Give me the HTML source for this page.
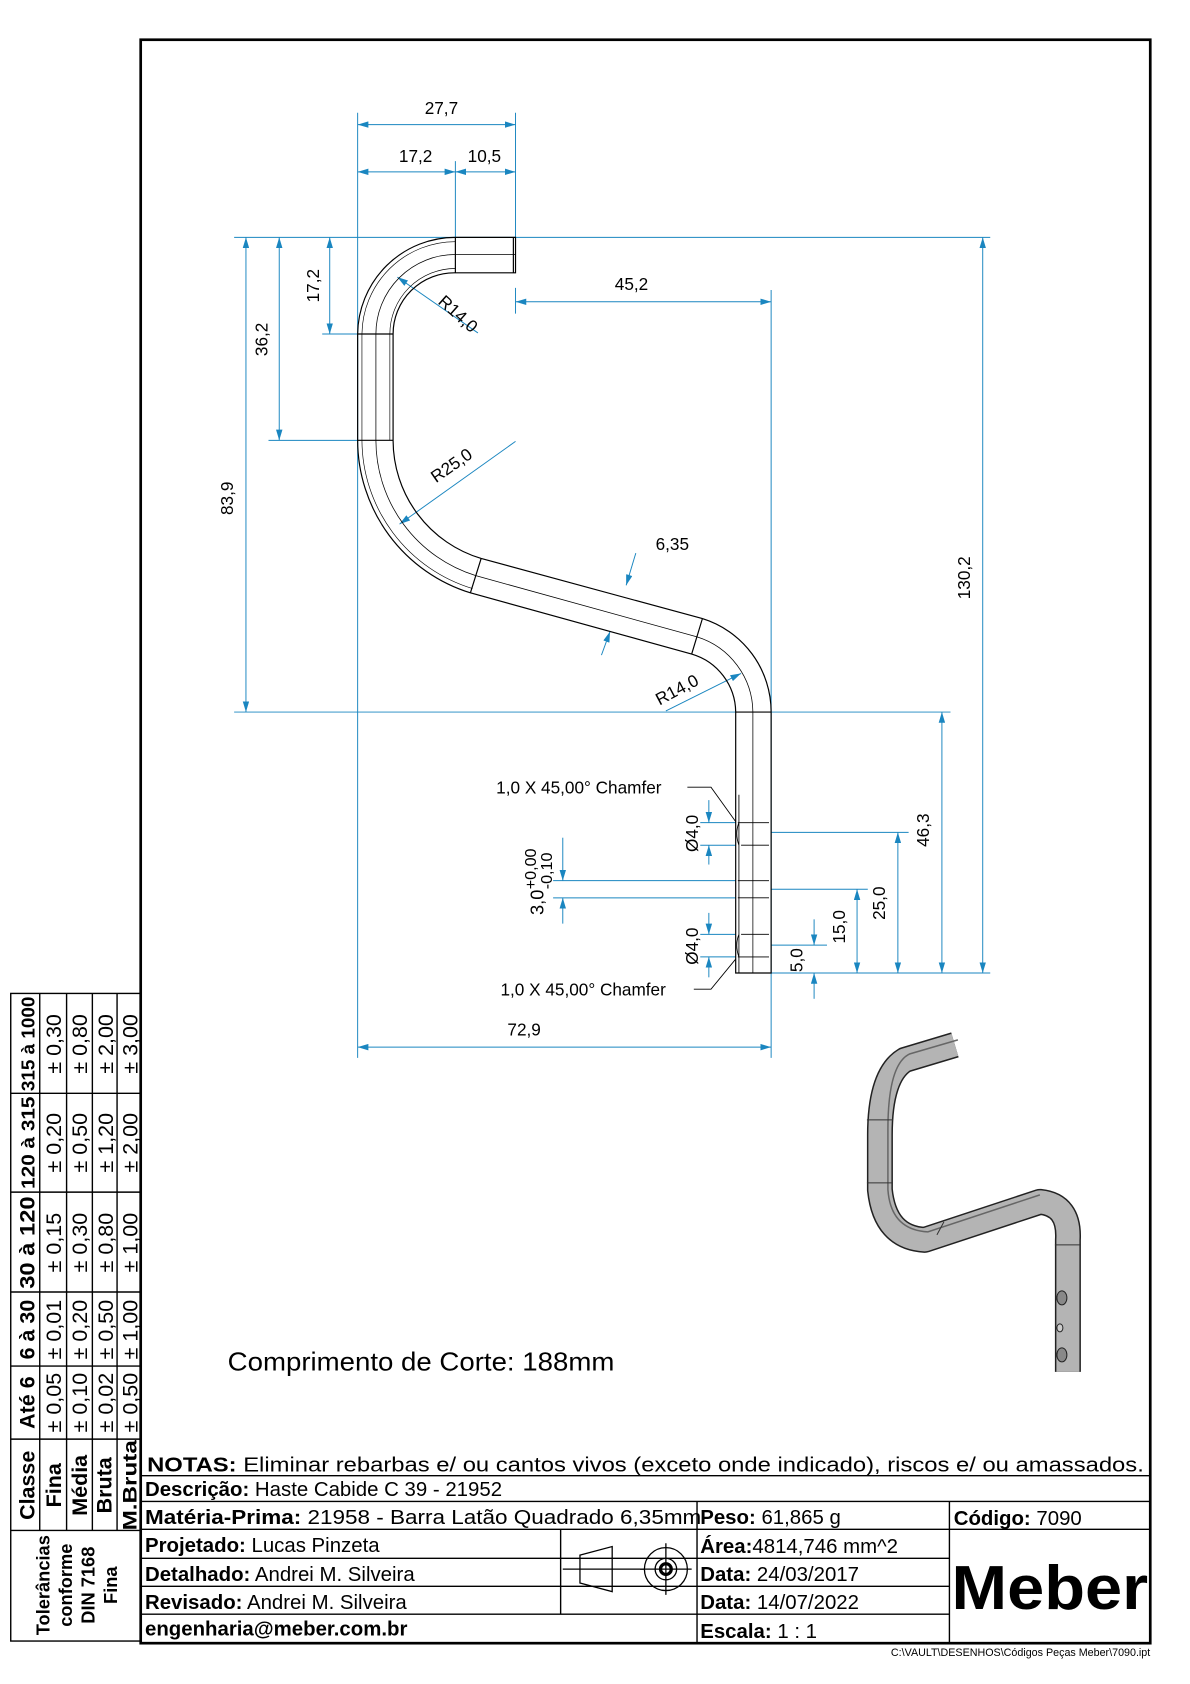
<!DOCTYPE html>
<html><head><meta charset="utf-8"><style>
html,body{margin:0;padding:0;background:#fff;}
svg{display:block;}
text{font-family:"Liberation Sans",sans-serif;fill:#000;}
</style></head><body>
<svg width="1190" height="1684" viewBox="0 0 1108 1568" preserveAspectRatio="none" xmlns="http://www.w3.org/2000/svg">
<defs>
<marker id="a" viewBox="0 0 10 6" refX="10" refY="3" markerWidth="10" markerHeight="6" orient="auto-start-reverse" markerUnits="userSpaceOnUse"><path d="M0,0L10,3L0,6z" fill="#1a86c0"/></marker>
</defs>
<rect x="131" y="37" width="940" height="1493" fill="none" stroke="#000" stroke-width="2.5"/>

<g stroke="#1a86c0" stroke-width="0.9" fill="none">
<path d="M333 105V985M480 105V221M480 268V292M424 150V221M718 270V985M218 221H922M300 311H333M250 410H333M218 663H885M718 906H922M718 775H846M718 828H808M718 880H770M515 820H685M515 836H685M652 766H685M652 787H685M652 870H685M652 891H685"/>
<path d="M333 116H480" marker-start="url(#a)" marker-end="url(#a)"/>
<path d="M333 160H424" marker-start="url(#a)" marker-end="url(#a)"/>
<path d="M424 160H480" marker-start="url(#a)" marker-end="url(#a)"/>
<path d="M307 221V311" marker-start="url(#a)" marker-end="url(#a)"/>
<path d="M260 221V410" marker-start="url(#a)" marker-end="url(#a)"/>
<path d="M229 221V663" marker-start="url(#a)" marker-end="url(#a)"/>
<path d="M915 221V906" marker-start="url(#a)" marker-end="url(#a)"/>
<path d="M480 281H718" marker-start="url(#a)" marker-end="url(#a)"/>
<path d="M333 975H718" marker-start="url(#a)" marker-end="url(#a)"/>
<path d="M877 663V906" marker-start="url(#a)" marker-end="url(#a)"/>
<path d="M836 775V906" marker-start="url(#a)" marker-end="url(#a)"/>
<path d="M798 828V906" marker-start="url(#a)" marker-end="url(#a)"/>
<path d="M758 856V880" marker-end="url(#a)"/><path d="M758 930V906" marker-end="url(#a)"/>
<path d="M524 780V820" marker-end="url(#a)"/><path d="M524 860V836" marker-end="url(#a)"/>
<path d="M660 745V766" marker-end="url(#a)"/><path d="M660 805V787" marker-end="url(#a)"/>
<path d="M660 850V870" marker-end="url(#a)"/><path d="M660 910V891" marker-end="url(#a)"/>
<path d="M445 310L370 258" marker-end="url(#a)"/>
<path d="M480 411L372 488" marker-end="url(#a)"/>
<path d="M620 662L690 627" marker-end="url(#a)"/>
<path d="M592 515L583 545" marker-end="url(#a)"/><path d="M560 610L568 588" marker-end="url(#a)"/>
</g>

<g fill="none" stroke="#000" stroke-width="1.1">
<path d="M480 221H424A91 91 0 0 0 333 311V410A149 149 0 0 0 438 552L644 609A57 57 0 0 1 685 663V906H718V663A91 91 0 0 0 654 576L448 520A115 115 0 0 1 366 410V311A57 57 0 0 1 424 254H480Z"/>
<path d="M424 225A87 87 0 0 0 337 311V410A145 145 0 0 0 440 548" stroke-width="0.6"/>
<path d="M424 250A61 61 0 0 0 363 311V410" stroke-width="0.6"/>
<path d="M480 237H424A74 74 0 0 0 350 311V410A132 132 0 0 0 443 536L649 593A74 74 0 0 1 701 663V906" stroke-width="0.7"/>
<path d="M424 221V254M333 311H366M333 410H366M438 552L448 520M644 609L654 576M685 663H718M478 221V254"/>
<path d="M687 766H716M690 787H716M687 820H716M687 836H716M690 870H716M687 891H716M688 740V906M688 766Q684 776 688 787M688 870Q684 880 688 891" stroke-width="0.8"/>
<path d="M640 733H662L685 765M646 921H662L685 893" stroke-width="0.8"/>
</g>

<g font-size="16">
<text x="411" y="106" text-anchor="middle">27,7</text>
<text x="387" y="151" text-anchor="middle">17,2</text>
<text x="451" y="151" text-anchor="middle">10,5</text>
<text x="588" y="270" text-anchor="middle">45,2</text>
<text x="488" y="964" text-anchor="middle">72,9</text>
<text x="626" y="512" text-anchor="middle">6,35</text>
<text transform="translate(297 266) rotate(-90)" text-anchor="middle">17,2</text>
<text transform="translate(249 316) rotate(-90)" text-anchor="middle">36,2</text>
<text transform="translate(217 464) rotate(-90)" text-anchor="middle">83,9</text>
<text transform="translate(903 538) rotate(-90)" text-anchor="middle">130,2</text>
<text transform="translate(865 773) rotate(-90)" text-anchor="middle">46,3</text>
<text transform="translate(824 841) rotate(-90)" text-anchor="middle">25,0</text>
<text transform="translate(787 863) rotate(-90)" text-anchor="middle">15,0</text>
<text transform="translate(747 894) rotate(-90)" text-anchor="middle">5,0</text>
<text transform="translate(650 776) rotate(-90)" text-anchor="middle">Ø4,0</text>
<text transform="translate(650 881) rotate(-90)" text-anchor="middle">Ø4,0</text>
<text transform="translate(506 852) rotate(-90)" font-size="17">3,0</text>
<text transform="translate(499 828) rotate(-90)" font-size="15">+0,00</text>
<text transform="translate(514 828) rotate(-90)" font-size="15">-0,10</text>
<text transform="translate(407 282) rotate(42)">R14,0</text>
<text transform="translate(406 450) rotate(-35)">R25,0</text>
<text transform="translate(614 657) rotate(-28)">R14,0</text>
<text x="462" y="739">1,0 X 45,00° Chamfer</text>
<text x="466" y="927">1,0 X 45,00° Chamfer</text>
</g>

<text x="212" y="1276" font-size="24" textLength="360" lengthAdjust="spacingAndGlyphs">Comprimento de Corte: 188mm</text>

<g transform="scale(0.931 0.931)">
<path d="M955 1045L905 1060Q880 1075 880 1135V1190Q885 1238 925 1240L1040 1202Q1070 1205 1068 1240V1372" fill="none" stroke="#222" stroke-width="26" stroke-linejoin="round"/>
<path d="M955 1045L905 1060Q880 1075 880 1135V1190Q885 1238 925 1240L1040 1202Q1070 1205 1068 1240V1372" fill="none" stroke="#b4b4b4" stroke-width="23" stroke-linejoin="round"/>
<path d="M958 1040L910 1054Q888 1064 888 1130V1190Q891 1230 928 1232L1040 1195" fill="none" stroke="#666" stroke-width="1.5"/>
<path d="M867 1120H893M867 1183H893M937 1235L944 1222M1055 1245H1081" stroke="#333" stroke-width="1"/>
<ellipse cx="1062" cy="1298" rx="5" ry="7" fill="#888" stroke="#222"/>
<ellipse cx="1062" cy="1355" rx="5" ry="7" fill="#888" stroke="#222"/>
<ellipse cx="1060" cy="1328" rx="3" ry="4" fill="#ccc" stroke="#222"/>
</g>

<g stroke="#000" stroke-width="1.3" fill="none">
<path d="M131 1374H1071M131 1398H1071M131 1424H1071M131 1451H649M131 1477H884M131 1503H884M649 1398V1530M884 1398V1530M522 1424V1503M649 1451H884"/>
</g>
<g stroke="#000" stroke-width="1.2" fill="none">
<path d="M540 1448L570 1440V1482L540 1474ZM524 1461H600"/>
<circle cx="620" cy="1461" r="20"/><circle cx="620" cy="1461" r="10"/><circle cx="620" cy="1461" r="5" stroke-width="3"/>
<path d="M596 1461H644M620 1437V1485"/>
</g>
<g font-size="19">
<text x="137" y="1370" textLength="928" lengthAdjust="spacingAndGlyphs"><tspan font-weight="bold">NOTAS:</tspan> Eliminar rebarbas e/ ou cantos vivos (exceto onde indicado), riscos e/ ou amassados.</text>
<text x="135" y="1393"><tspan font-weight="bold">Descrição:</tspan> Haste Cabide C 39 - 21952</text>
<text x="135" y="1419" textLength="518" lengthAdjust="spacingAndGlyphs"><tspan font-weight="bold">Matéria-Prima:</tspan> 21958 - Barra Latão Quadrado 6,35mm</text>
<text x="652" y="1419"><tspan font-weight="bold">Peso:</tspan> 61,865 g</text>
<text x="888" y="1420"><tspan font-weight="bold">Código:</tspan> 7090</text>
<text x="135" y="1445"><tspan font-weight="bold">Projetado:</tspan> Lucas Pinzeta</text>
<text x="135" y="1472"><tspan font-weight="bold">Detalhado:</tspan> Andrei M. Silveira</text>
<text x="135" y="1498"><tspan font-weight="bold">Revisado:</tspan> Andrei M. Silveira</text>
<text x="135" y="1523" font-weight="bold">engenharia@meber.com.br</text>
<text x="652" y="1446"><tspan font-weight="bold">Área:</tspan>4814,746 mm^2</text>
<text x="652" y="1472"><tspan font-weight="bold">Data:</tspan> 24/03/2017</text>
<text x="652" y="1498"><tspan font-weight="bold">Data:</tspan> 14/07/2022</text>
<text x="652" y="1525"><tspan font-weight="bold">Escala:</tspan> 1 : 1</text>
</g>
<text x="886" y="1498" font-size="58" font-weight="bold" textLength="183" lengthAdjust="spacingAndGlyphs">Meber</text>
<text x="1071" y="1542" font-size="10" text-anchor="end">C:\VAULT\DESENHOS\Códigos Peças Meber\7090.ipt</text>

<g stroke="#000" stroke-width="1.3" fill="none">
<rect x="10" y="925" width="121" height="603"/>
<path d="M37 925V1425M62 925V1425M86 925V1425M109 925V1425M10 1018H131M10 1110H131M10 1203H131M10 1272H131M10 1340H131M10 1425H131"/>
</g>
<g font-size="20">
<g font-weight="bold">
<text transform="translate(32 972) rotate(-90)" text-anchor="middle" font-size="17" textLength="88" lengthAdjust="spacingAndGlyphs">315 à 1000</text>
<text transform="translate(32 1064) rotate(-90)" text-anchor="middle" font-size="17" textLength="86" lengthAdjust="spacingAndGlyphs">120 à 315</text>
<text transform="translate(32 1157) rotate(-90)" text-anchor="middle" font-size="20" textLength="86" lengthAdjust="spacingAndGlyphs">30 à 120</text>
<text transform="translate(32 1238) rotate(-90)" text-anchor="middle" font-size="20">6 à 30</text>
<text transform="translate(32 1306) rotate(-90)" text-anchor="middle" font-size="20">Até 6</text>
<text transform="translate(32 1383) rotate(-90)" text-anchor="middle" font-size="20">Classe</text>
<text transform="translate(57 1383) rotate(-90)" text-anchor="middle" font-size="20">Fina</text>
<text transform="translate(81 1383) rotate(-90)" text-anchor="middle" font-size="20">Média</text>
<text transform="translate(104 1383) rotate(-90)" text-anchor="middle" font-size="20">Bruta</text>
<text transform="translate(127 1383) rotate(-90)" text-anchor="middle" font-size="18" textLength="84" lengthAdjust="spacingAndGlyphs">M.Bruta</text>
<text transform="translate(46 1476) rotate(-90)" text-anchor="middle" font-size="17">Tolerâncias</text>
<text transform="translate(67 1476) rotate(-90)" text-anchor="middle" font-size="17">conforme</text>
<text transform="translate(88 1476) rotate(-90)" text-anchor="middle" font-size="17">DIN 7168</text>
<text transform="translate(109 1476) rotate(-90)" text-anchor="middle" font-size="17">Fina</text>
</g>
<text transform="translate(57 972) rotate(-90)" text-anchor="middle">± 0,30</text>
<text transform="translate(81 972) rotate(-90)" text-anchor="middle">± 0,80</text>
<text transform="translate(105 972) rotate(-90)" text-anchor="middle">± 2,00</text>
<text transform="translate(128 972) rotate(-90)" text-anchor="middle">± 3,00</text>
<text transform="translate(57 1064) rotate(-90)" text-anchor="middle">± 0,20</text>
<text transform="translate(81 1064) rotate(-90)" text-anchor="middle">± 0,50</text>
<text transform="translate(105 1064) rotate(-90)" text-anchor="middle">± 1,20</text>
<text transform="translate(128 1064) rotate(-90)" text-anchor="middle">± 2,00</text>
<text transform="translate(57 1157) rotate(-90)" text-anchor="middle">± 0,15</text>
<text transform="translate(81 1157) rotate(-90)" text-anchor="middle">± 0,30</text>
<text transform="translate(105 1157) rotate(-90)" text-anchor="middle">± 0,80</text>
<text transform="translate(128 1157) rotate(-90)" text-anchor="middle">± 1,00</text>
<text transform="translate(57 1238) rotate(-90)" text-anchor="middle">± 0,01</text>
<text transform="translate(81 1238) rotate(-90)" text-anchor="middle">± 0,20</text>
<text transform="translate(105 1238) rotate(-90)" text-anchor="middle">± 0,50</text>
<text transform="translate(128 1238) rotate(-90)" text-anchor="middle">± 1,00</text>
<text transform="translate(57 1306) rotate(-90)" text-anchor="middle">± 0,05</text>
<text transform="translate(81 1306) rotate(-90)" text-anchor="middle">± 0,10</text>
<text transform="translate(105 1306) rotate(-90)" text-anchor="middle">± 0,02</text>
<text transform="translate(128 1306) rotate(-90)" text-anchor="middle">± 0,50</text>
</g>
</svg>
</body></html>
